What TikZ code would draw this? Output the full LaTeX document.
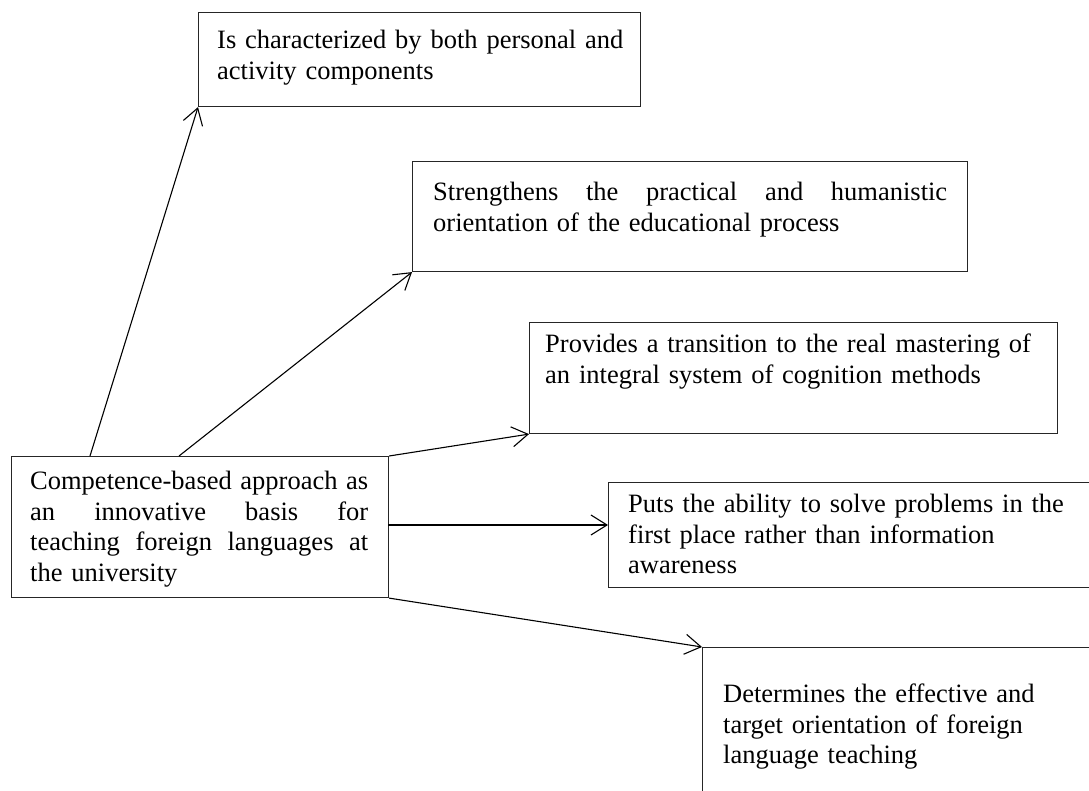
\documentclass[tikz,border=0pt]{standalone}
\usepackage{fontspec}
\setmainfont{Liberation Serif}
\usetikzlibrary{arrows.meta}
\newcommand{\jline}[2]{\leavevmode\hbox to #1{#2}}
\begin{document}
\begin{tikzpicture}[x=1pt,y=-1pt,
  box/.style={draw=black!85, line width=1.1pt, rectangle, inner sep=0pt, anchor=north west},
  txt/.style={inner sep=0pt, anchor=north west, align=left, font=\fontsize{26.5}{30.5}\selectfont},
  conn/.style={draw=black, line width=1.1pt, -{Straight Barb[length=16pt,width=20pt,line width=1.1pt]}}]
\clip (0,0) rectangle (1089,791);
% boxes
\node[box, minimum width=442pt, minimum height=94pt]  (B1) at (198,12) {};
\node[box, minimum width=555pt, minimum height=110pt] (B2) at (412,161) {};
\node[box, minimum width=528pt, minimum height=111pt] (B3) at (529,322) {};
\node[box, minimum width=500pt, minimum height=105pt] (B4) at (608,482) {};
\node[box, minimum width=420pt, minimum height=170pt] (B5) at (702,647) {};
\node[box, minimum width=377pt, minimum height=141pt] (L)  at (11,456) {};
% texts
\node[txt, text width=415pt] (T1) at (217,30) {Is characterized by both personal and\\activity components};
\node[txt, text width=514pt] (T2) at (433,182) {\jline{514pt}{Strengthens\hfil the\hfil practical\hfil and\hfil humanistic}\\orientation of the educational process};
\node[txt, text width=505pt] (T3) at (545,334) {Provides a transition to the real mastering of\\an integral system of cognition methods};
\node[txt, text width=445pt] (T4) at (628,494) {Puts the ability to solve problems in the\\first place rather than information\\awareness};
\node[txt, text width=340pt] (T5) at (723,684) {Determines the effective and\\target orientation of foreign\\language teaching};
\node[txt, text width=338pt] (TL) at (30,471) {\jline{338pt}{Competence-based\hfil approach\hfil as}\\\jline{338pt}{an\hfil innovative\hfil basis\hfil for}\\\jline{338pt}{teaching\hfil foreign\hfil languages\hfil at}\\the university};
% connectors
\coordinate (s1) at (90,456);
\coordinate (s2) at (179,456);
\coordinate (s4) at (388,525);
\draw[conn] (s1) -- (B1.south west);
\draw[conn] (s2) -- (B2.south west);
\draw[conn] (L.north east) -- (B3.south west);
\draw[conn] (s4) -- (B4.west |- s4);
\draw[conn] (L.south east) -- (B5.north west);
\end{tikzpicture}
\end{document}
